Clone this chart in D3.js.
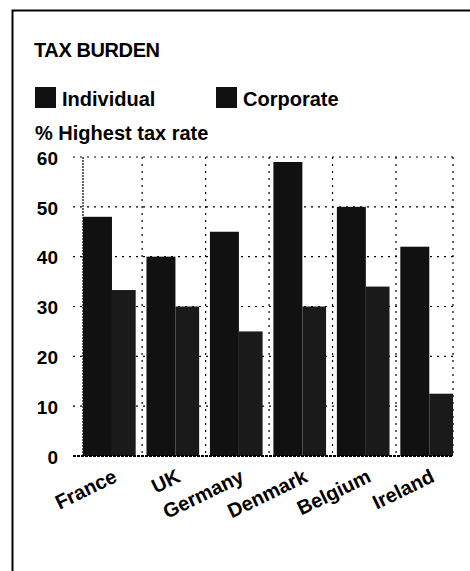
<!DOCTYPE html>
<html>
<head>
<meta charset="utf-8">
<script src="https://cdn.jsdelivr.net/npm/d3@7"></script>
<style>
  html, body { margin: 0; padding: 0; background: #fff; }
  svg { display: block; font-family: "Liberation Sans", Arial, sans-serif; }
</style>
</head>
<body>
<svg id="chart" width="470" height="571"></svg>
<script>
/* ── Data ─────────────────────────────── */
const countries  = ["France", "UK", "Germany", "Denmark", "Belgium", "Ireland"];
const individual = [48, 40, 45, 59, 50, 42];
const corporate  = [33.3, 30, 25, 30, 34, 12.5];
const yTicks     = [0, 10, 20, 30, 40, 50, 60];

const svg = d3.select("#chart");

/* ── Frame ─────────────────────────────── */
svg.append("path")
    .attr("d", "M12.5,571 L12.5,10.5 L470,10.5")
    .attr("fill", "none").attr("stroke", "#000").attr("stroke-width", 2);

/* ── Heading + legend ─────────────────── */
svg.append("text")
    .attr("x", 34).attr("y", 57)
    .attr("font-size", 20).attr("font-weight", "bold")
    .attr("letter-spacing", -0.4)
    .text("TAX BURDEN");

const legend = [
    { label: "Individual", x: 35 },
    { label: "Corporate",  x: 216 }
];
const lg = svg.append("g").selectAll("g").data(legend).join("g")
    .attr("transform", d => `translate(${d.x},87)`);
lg.append("rect").attr("width", 21).attr("height", 21).attr("fill", "#111");
lg.append("text").attr("x", 27).attr("y", 19)
    .attr("font-size", 20).attr("font-weight", "bold")
    .text(d => d.label);

svg.append("text")
    .attr("x", 35).attr("y", 140)
    .attr("font-size", 20).attr("font-weight", "bold")
    .text("% Highest tax rate");

/* ── Scales ────────────────────────────── */
const x = d3.scaleBand()
    .domain(countries)
    .range([83, 453])
    .paddingInner(0.17)
    .paddingOuter(0)
    .align(0);

const y = d3.scaleLinear().domain([0, 60]).range([456, 157]);

const bw     = x.bandwidth();
const indW   = bw * 0.55;
const gap    = x.step() - bw;
const [plotL, plotR] = x.range();

/* ── Grid ──────────────────────────────── */
const grid = svg.append("g").attr("stroke", "#000").attr("stroke-width", 1.2);

grid.selectAll("line.h")
    .data(yTicks.filter(t => t > 0)).join("line")
    .attr("class", "h")
    .attr("x1", plotL - 10).attr("x2", plotR)
    .attr("y1", d => y(d)).attr("y2", d => y(d))
    .attr("stroke-dasharray", "2,5");

grid.selectAll("line.v")
    .data(countries).join("line")
    .attr("class", "v")
    .attr("x1", d => Math.min(x(d) + bw + gap * 0.6, plotR))
    .attr("x2", d => Math.min(x(d) + bw + gap * 0.6, plotR))
    .attr("y1", y(60)).attr("y2", y(0))
    .attr("stroke-dasharray", "2,5");

grid.append("line")
    .attr("x1", plotL).attr("x2", plotL)
    .attr("y1", y(60)).attr("y2", y(0))
    .attr("stroke-dasharray", "2,1");

/* ── Bars ──────────────────────────────── */
const groups = svg.append("g").selectAll("g")
    .data(countries.map((c, i) => ({ c, ind: individual[i], corp: corporate[i] })))
    .join("g")
    .attr("transform", d => `translate(${x(d.c)},0)`);

groups.append("rect")
    .attr("x", 0).attr("width", indW)
    .attr("y", d => y(d.ind)).attr("height", d => y(0) - y(d.ind))
    .attr("fill", "#111");

groups.append("rect")
    .attr("x", indW).attr("width", bw - indW)
    .attr("y", d => y(d.corp)).attr("height", d => y(0) - y(d.corp))
    .attr("fill", "#1a1a1a");

/* baseline */
svg.append("line")
    .attr("x1", plotL - 10).attr("x2", plotR)
    .attr("y1", y(0)).attr("y2", y(0))
    .attr("stroke", "#000").attr("stroke-width", 2)
    .attr("stroke-dasharray", "3,1");

/* ── Axes ──────────────────────────────── */
const yAxis = svg.append("g")
    .attr("transform", `translate(${plotL},0)`)
    .call(d3.axisLeft(y).tickValues(yTicks).tickSize(0).tickPadding(25));
yAxis.select(".domain").remove();
yAxis.selectAll("text")
    .attr("font-size", 19).attr("font-weight", "bold")
    .attr("font-family", "'Liberation Sans', Arial, sans-serif")
    .attr("fill", "#000").attr("dy", "0.38em");

svg.append("g").selectAll("text")
    .data(countries).join("text")
    .attr("transform", d => `translate(${x(d) + bw / 2 + 9},481) rotate(-26)`)
    .attr("text-anchor", "end")
    .attr("font-size", 20).attr("font-weight", "bold")
    .text(d => d);
</script>
</body>
</html>
